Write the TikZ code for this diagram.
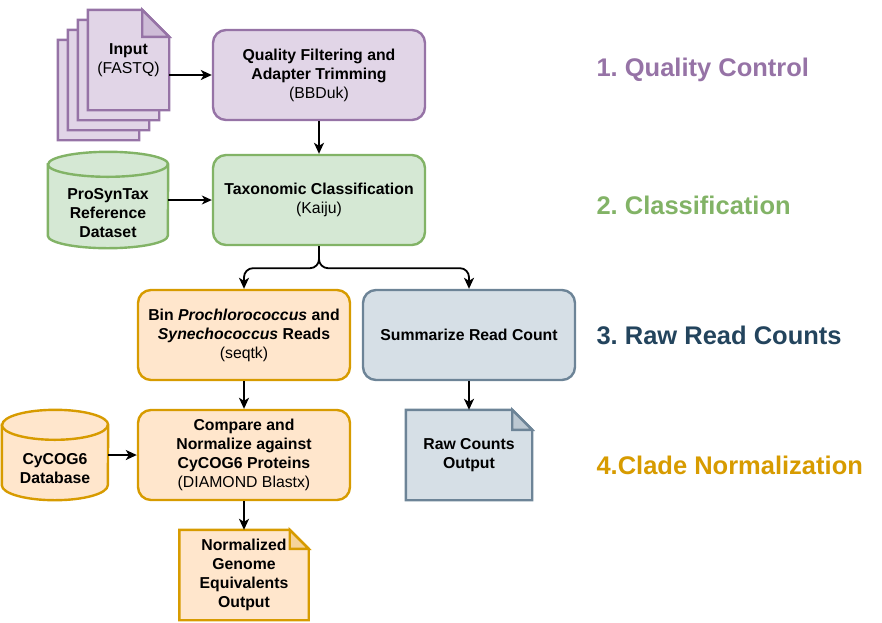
\documentclass[tikz,border=0pt]{standalone}
\usepackage{fontspec}
\setmainfont{Liberation Sans}
\usetikzlibrary{arrows.meta,calc,positioning,backgrounds}
\frenchspacing

\definecolor{qcfill}{HTML}{E1D5E7}
\definecolor{qcline}{HTML}{9673A6}
\definecolor{clfill}{HTML}{D5E8D4}
\definecolor{clline}{HTML}{82B366}
\definecolor{nmfill}{HTML}{FFE6CC}
\definecolor{nmline}{HTML}{D79B00}
\definecolor{rcfill}{HTML}{D6DFE6}
\definecolor{rcline}{HTML}{6D8497}
\definecolor{rctext}{HTML}{23445D}

% page with a folded corner: node, fold, fill, line
\newcommand{\foldpage}[4]{%
  \begin{pgfonlayer}{background}
    \filldraw[fill=#3, draw=#4, line width=2.4pt]
      (#1.north west) -- ($(#1.north east)+(-#2,0)$) -- ($(#1.north east)+(0,-#2)$)
      -- (#1.south east) -- (#1.south west) -- cycle;
    \filldraw[fill=#4!25!#3, draw=#4, line width=2.4pt]
      ($(#1.north east)+(-#2,0)$) -- ($(#1.north east)+(-#2,-#2)$) -- ($(#1.north east)+(0,-#2)$) -- cycle;
  \end{pgfonlayer}}

% database cylinder: node, half width, ellipse height, fill, line
\newcommand{\dbdrum}[5]{%
  \filldraw[fill=#4, draw=#5, line width=2.4pt]
    ($(#1.north west)+(0,-#3)$) -- ($(#1.south west)+(0,#3)$)
    arc[start angle=180, end angle=360, x radius=#2pt, y radius=#3pt]
    -- ($(#1.north east)+(0,-#3)$)
    arc[start angle=0, end angle=180, x radius=#2pt, y radius=#3pt] -- cycle;
  \draw[draw=#5, line width=2.4pt]
    ($(#1.north west)+(0,-#3)$) arc[start angle=180, end angle=360, x radius=#2pt, y radius=#3pt];}

\begin{document}
\begin{tikzpicture}[x=1pt, y=1pt,
    txt/.style={font=\bfseries\fontsize{15.8}{19}\selectfont, align=center},
    stagebox/.style={txt, draw, line width=2.4pt, rounded corners=13pt, minimum width=212pt, minimum height=90pt, inner sep=0pt},
    blank/.style={txt, inner sep=0pt},
    phase/.style={font=\bfseries\fontsize{25.5}{30}\selectfont, anchor=west},
    flow/.style={line width=1.8pt, -{Stealth[length=11pt, width=10pt, inset=3pt]}},
    thinflow/.style={line width=1.2pt, -{Stealth[length=10pt, width=9pt, inset=3pt]}}]
    \useasboundingbox (0,0) rectangle (882,-622);

    % input stack
    \node[blank, minimum width=81pt, minimum height=100pt] (inpd) at (98.5,-90) {};
    \node[blank, minimum width=81pt, minimum height=100pt] (inpc) at (108.5,-80) {};
    \node[blank, minimum width=81pt, minimum height=100pt] (inpb) at (118.5,-70) {};
    \node[blank, minimum width=81pt, minimum height=100pt] (inpa) at (128.5,-60) {Input\\{\mdseries (FASTQ)}};
    \foldpage{inpd}{27}{qcfill}{qcline}
    \foldpage{inpc}{27}{qcfill}{qcline}
    \foldpage{inpb}{27}{qcfill}{qcline}
    \foldpage{inpa}{27}{qcfill}{qcline}

    \node[stagebox, draw=qcline, fill=qcfill] (qf) at (319,-75) {Quality Filtering and\\Adapter Trimming\\{\mdseries (BBDuk)}};
    \node[stagebox, draw=clline, fill=clfill] (tax) at (319,-200) {Taxonomic Classification\\{\mdseries (Kaiju)}};
    \node[stagebox, draw=nmline, fill=nmfill] (bin) at (244,-335) {Bin \textit{Prochlorococcus} and\\\textit{Synechococcus} Reads\\{\mdseries (seqtk)}};
    \node[stagebox, draw=rcline, fill=rcfill] (summ) at (469,-335) {Summarize Read Count};
    \node[stagebox, draw=nmline, fill=nmfill] (cmp) at (244,-455) {Compare and\\Normalize against\\CyCOG6 Proteins\\{\mdseries (DIAMOND Blastx)}};

    % databases
    \node[blank, minimum width=120pt, minimum height=96pt] (psdb) at (108,-200) {};
    \dbdrum{psdb}{60}{12.5}{clfill}{clline}
    \node[blank] (psdbtxt) at ($(psdb.center)+(0,-13)$) {ProSynTax\\Reference\\Dataset};
    \node[blank, minimum width=106pt, minimum height=90pt] (cydb) at (55,-455) {};
    \dbdrum{cydb}{53}{15}{nmfill}{nmline}
    \node[blank] (cydbtxt) at ($(cydb.center)+(0,-14)$) {CyCOG6\\Database};

    % outputs
    \node[blank, minimum width=126pt, minimum height=90pt] (rawdoc) at (469,-455) {Raw Counts\\Output};
    \foldpage{rawdoc}{20}{rcfill}{rcline}
    \node[blank, minimum width=129pt, minimum height=90pt] (normdoc) at (244,-575) {Normalized\\Genome\\Equivalents\\Output};
    \foldpage{normdoc}{19}{nmfill}{nmline}

    \draw[flow] (inpa.east |- qf) -- (qf);
    \draw[flow] (qf) -- (tax);
    \draw[thinflow] (psdb) -- (tax);
    \draw[flow, rounded corners=9pt] (tax.south) -- ++(0,-22) -| (bin.north);
    \draw[flow, rounded corners=9pt] (tax.south) -- ++(0,-22) -| (summ.north);
    \draw[flow] (bin) -- (cmp);
    \draw[flow] (summ) -- (rawdoc);
    \draw[flow] (cydb) -- (cmp);
    \draw[flow] (cmp) -- (normdoc);

    \node[phase, text=qcline] (lab1) at (593,-70) {1. Quality Control};
    \node[phase, text=clline] (lab2) at (593,-205) {2. Classification};
    \node[phase, text=rctext] (lab3) at (593,-335) {3. Raw Read Counts};
    \node[phase, text=nmline] (lab4) at (593,-465) {4.Clade Normalization};
\end{tikzpicture}
\end{document}
